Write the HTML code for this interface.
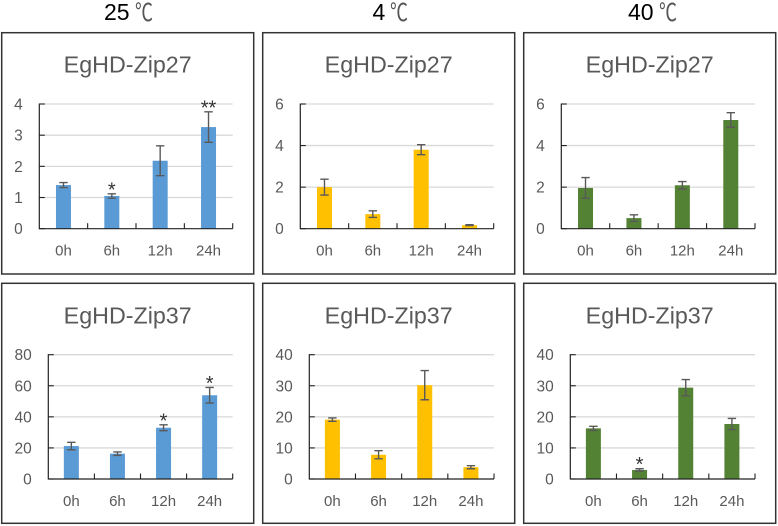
<!DOCTYPE html>
<html lang="en">
<head>
<meta charset="utf-8">
<title>EgHD-Zip expression at three temperatures</title>
<style>
html,body{margin:0;padding:0;background:#fff;width:778px;height:526px;overflow:hidden}
svg{display:block}
text{font-family:"Liberation Sans","Noto Sans CJK SC",sans-serif}
</style>
</head>
<body>
<svg id="fig" width="778" height="526" viewBox="0 0 778 526" xmlns="http://www.w3.org/2000/svg">
  <rect x="0" y="0" width="778" height="526" fill="#fff"/>
  <g>
    <text x="104" y="20" font-size="23" fill="#000">25</text>
    <text transform="translate(135 21) scale(1 1.35)" font-size="18" fill="#555">℃</text>
  </g>
  <g>
    <text x="372.5" y="20" font-size="23" fill="#000">4</text>
    <text transform="translate(390 21) scale(1 1.35)" font-size="18" fill="#555">℃</text>
  </g>
  <g>
    <text x="628" y="20" font-size="23" fill="#000">40</text>
    <text transform="translate(659 21) scale(1 1.35)" font-size="18" fill="#555">℃</text>
  </g>
</svg>
<script>
var categories = ['0h', '6h', '12h', '24h'];

var ticks25Zip27 = [0, 1, 2, 3, 4];
var ticks80 = [0, 20, 40, 60, 80];
var ticks6 = [0, 2, 4, 6];
var ticks40 = [0, 10, 20, 30, 40];

var values25Zip27 = [1.40, 1.05, 2.18, 3.26];
var errors25Zip27 = [0.08, 0.07, 0.48, 0.49];
var stars25Zip27 = ['', '*', '', '**'];

var values4Zip27 = [2.00, 0.70, 3.80, 0.17];
var errors4Zip27 = [0.38, 0.16, 0.24, 0.02];
var stars4Zip27 = ['', '', '', ''];

var values40Zip27 = [1.96, 0.51, 2.09, 5.23];
var errors40Zip27 = [0.50, 0.16, 0.18, 0.35];
var stars40Zip27 = ['', '', '', ''];

var values25Zip37 = [21.2, 16.3, 33.0, 53.9];
var errors25Zip37 = [2.4, 1.1, 1.9, 5.0];
var stars25Zip37 = ['', '', '*', '*'];

var values4Zip37 = [19.1, 7.8, 30.2, 3.8];
var errors4Zip37 = [0.55, 1.3, 4.7, 0.5];
var stars4Zip37 = ['', '', '', ''];

var values40Zip37 = [16.3, 2.9, 29.4, 17.7];
var errors40Zip37 = [0.65, 0.4, 2.6, 1.8];
var stars40Zip37 = ['', '*', '', ''];

var NS = 'http://www.w3.org/2000/svg';
var fig = document.getElementById('fig');

function make(parent, tag, attrs, content) {
  var el = document.createElementNS(NS, tag);
  for (var k in attrs) { el.setAttribute(k, attrs[k]); }
  if (content !== undefined) { el.textContent = content; }
  parent.appendChild(el);
  return el;
}

function drawChart(key, title, box, plot, ticks, values, errors, stars, color) {
  var top = ticks[ticks.length - 1];
  function yScale(v) { return plot.bottom - (v / top) * (plot.bottom - plot.top); }
  var band = (plot.right - plot.left) / categories.length;
  function xScale(i) { return plot.left + band * (i + 0.5); }

  var g = make(fig, 'g', {});
  
  

  var frame = make(g, 'rect', {x: box.x, y: box.y, width: box.w, height: box.h, fill: '#fff', stroke: '#333', 'stroke-width': 1.5});
  
  

  var t = make(g, 'text', {x: box.x + box.w / 2, y: box.y + 40, 'text-anchor': 'middle', 'font-size': 23, fill: '#595959', textLength: 128, lengthAdjust: 'spacingAndGlyphs'}, title);
  
  

  ticks.forEach(function (tv) {
    var y = yScale(tv);
    if (tv !== 0) {
      var gl = make(g, 'line', {x1: plot.left, x2: plot.right, y1: y, y2: y, stroke: '#d9d9d9', 'stroke-width': 1.3});
      
      
    }
    var lab = make(g, 'text', {x: plot.left - 16.5, y: y + 5.5, 'text-anchor': 'end', 'font-size': 15.5, fill: '#595959'}, String(tv));
    
    
    var tk = make(g, 'line', {x1: plot.left, x2: plot.left + 5.5, y1: y, y2: y, stroke: '#222', 'stroke-width': 1.1});
    
    
  });

  categories.forEach(function (c, i) {
    var cx = xScale(i);
    var by = yScale(values[i]);
    var bar = make(g, 'rect', {x: cx - 7.5, y: by, width: 15, height: plot.bottom - by, fill: color});
    
    

    var hi = yScale(values[i] + errors[i]);
    var lo = yScale(values[i] - errors[i]);
    var eb = make(g, 'path', {d: 'M' + (cx - 4.2) + ' ' + hi + 'H' + (cx + 4.2) + 'M' + cx + ' ' + hi + 'V' + lo + 'M' + (cx - 4.2) + ' ' + lo + 'H' + (cx + 4.2), fill: 'none', stroke: '#595959', 'stroke-width': 1.4});
    
    

    if (stars[i]) {
      var st = make(g, 'text', {x: cx, y: hi - 8.5 + 11, 'text-anchor': 'middle', 'font-size': 20, fill: '#333'}, stars[i]);
      
      
    }

    var xl = make(g, 'text', {x: cx, y: plot.bottom + 27, 'text-anchor': 'middle', 'font-size': 15, fill: '#595959'}, c);
    
    
  });

  for (var b = 1; b <= categories.length; b++) {
    var bx = plot.left + band * b;
    var xt = make(g, 'line', {x1: bx, x2: bx, y1: plot.bottom, y2: plot.bottom - 5.5, stroke: '#222', 'stroke-width': 1.1});
    
    
  }

  var ya = make(g, 'line', {x1: plot.left, x2: plot.left, y1: plot.top - 0.5, y2: plot.bottom + 0.5, stroke: '#222', 'stroke-width': 1.2});
  
  
  var xa = make(g, 'line', {x1: plot.left, x2: plot.right, y1: plot.bottom, y2: plot.bottom, stroke: '#222', 'stroke-width': 1.2});
  
  
}

var blue = '#5b9bd5';
var gold = '#ffc000';
var green = '#548235';

drawChart('25c-zip27', 'EgHD-Zip27', {x: 1.7, y: 32.7, w: 252, h: 241.3}, {left: 39.3, right: 232.7, top: 104, bottom: 228.7}, ticks25Zip27, values25Zip27, errors25Zip27, stars25Zip27, blue);
drawChart('4c-zip27', 'EgHD-Zip27', {x: 262.7, y: 32.7, w: 252, h: 241.3}, {left: 300.3, right: 493.7, top: 104, bottom: 228.7}, ticks6, values4Zip27, errors4Zip27, stars4Zip27, gold);
drawChart('40c-zip27', 'EgHD-Zip27', {x: 523.7, y: 32.7, w: 252, h: 241.3}, {left: 561.3, right: 755, top: 104, bottom: 228.7}, ticks6, values40Zip27, errors40Zip27, stars40Zip27, green);
drawChart('25c-zip37', 'EgHD-Zip37', {x: 1.7, y: 283.3, w: 252, h: 240}, {left: 48.3, right: 232.7, top: 354.7, bottom: 479}, ticks80, values25Zip37, errors25Zip37, stars25Zip37, blue);
drawChart('4c-zip37', 'EgHD-Zip37', {x: 262.7, y: 283.3, w: 252, h: 240}, {left: 309.3, right: 494, top: 354.7, bottom: 479}, ticks40, values4Zip37, errors4Zip37, stars4Zip37, gold);
drawChart('40c-zip37', 'EgHD-Zip37', {x: 523.7, y: 283.3, w: 252, h: 240}, {left: 570.3, right: 755, top: 354.7, bottom: 479}, ticks40, values40Zip37, errors40Zip37, stars40Zip37, green);
</script>
</body>
</html>
